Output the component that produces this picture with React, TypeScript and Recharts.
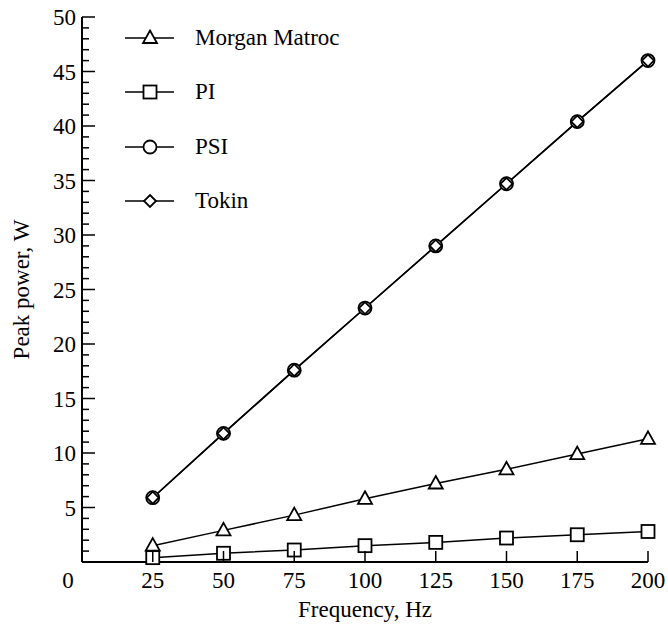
import { LineChart, Line, XAxis, YAxis, Legend } from "recharts";

const frequencies = [25, 50, 75, 100, 125, 150, 175, 200];
const morganMatroc = [1.5, 2.9, 4.3, 5.8, 7.2, 8.5, 9.9, 11.3];
const pi = [0.4, 0.8, 1.1, 1.5, 1.8, 2.2, 2.5, 2.8];
const psi = [5.9, 11.8, 17.6, 23.3, 29.0, 34.7, 40.4, 46.0];
const tokin = [5.9, 11.8, 17.6, 23.3, 29.0, 34.7, 40.4, 46.0];

const xTicks = [0, 25, 50, 75, 100, 125, 150, 175, 200];
const yTicks = Array.from({ length: 51 }, (_, i) => i);

const SERIES = [
  { key: "morgan", name: "Morgan Matroc", shape: "triangle" },
  { key: "pi", name: "PI", shape: "square" },
  { key: "psi", name: "PSI", shape: "circle" },
  { key: "tokin", name: "Tokin", shape: "diamond" },
];

const data = frequencies.map((f, i) => ({
  freq: f,
  morgan: morganMatroc[i],
  pi: pi[i],
  psi: psi[i],
  tokin: tokin[i],
}));

const FONT = '"Liberation Serif", "Times New Roman", serif';
const FONT_SIZE = 23;

function Marker({ shape, cx, cy }: { shape: string; cx: number; cy: number }) {
  const common = { fill: "#fff", stroke: "#000", strokeWidth: 1.8 };
  if (shape === "triangle")
    return <polygon points={`${cx},${cy - 7.5} ${cx + 7},${cy + 5} ${cx - 7},${cy + 5}`} {...common} />;
  if (shape === "square") return <rect x={cx - 6.5} y={cy - 6.5} width={13} height={13} {...common} />;
  if (shape === "circle") return <circle cx={cx} cy={cy} r={6.5} {...common} />;
  return <polygon points={`${cx},${cy - 6} ${cx + 6},${cy} ${cx},${cy + 6} ${cx - 6},${cy}`} {...common} />;
}

function XTick(props: any) {
  const { x, y, payload } = props;
  const v = payload.value;
  const axisY = y - 10;
  return (
    <g>
      {v > 0 && <line x1={x} x2={x} y1={axisY} y2={axisY - 11} stroke="#000" strokeWidth={1.5} />}
      <text x={v === 0 ? x - 14 : x} y={y} dy="0.71em" textAnchor="middle" fontFamily={FONT} fontSize={FONT_SIZE} fill="#000">
        {v}
      </text>
    </g>
  );
}

function YTick(props: any) {
  const { x, y, payload } = props;
  const v = payload.value;
  const axisX = x + 6;
  const major = v % 5 === 0;
  if (v === 0) return <g />;
  return (
    <g>
      <line x1={axisX} x2={axisX + (major ? 13 : 7)} y1={y} y2={y} stroke="#000" strokeWidth={1.5} />
      {major && (
        <text x={x} y={y} dy="0.35em" textAnchor="end" fontFamily={FONT} fontSize={FONT_SIZE} fill="#000">
          {v}
        </text>
      )}
    </g>
  );
}

function LegendBox() {
  return (
    <div style={{ fontFamily: FONT, fontSize: FONT_SIZE, color: "#000" }}>
      {SERIES.map((s) => (
        <div key={s.key} style={{ height: 54.3, display: "flex", alignItems: "center" }}>
          <svg width={50} height={20} style={{ display: "block" }}>
            <line x1={0} x2={49} y1={10} y2={10} stroke="#000" strokeWidth={1.5} />
            <Marker shape={s.shape} cx={25} cy={10} />
          </svg>
          <span style={{ marginLeft: 20 }}>{s.name}</span>
        </div>
      ))}
    </div>
  );
}

export default function App() {
  return (
    <div style={{ width: 668, height: 630, background: "#fff" }}>
      <style>{`body{margin:0;background:#fff}`}</style>
      <LineChart width={668} height={630} data={data} margin={{ top: 17, right: 20, left: 32, bottom: 0 }}>
        <XAxis
          dataKey="freq"
          type="number"
          domain={[0, 200]}
          ticks={xTicks}
          interval={0}
          height={68}
          tickSize={0}
          tickMargin={10}
          tick={XTick}
          axisLine={{ stroke: "#000", strokeWidth: 2 }}
          label={{
            content: ({ viewBox }: any) => (
              <text
                x={viewBox.x + viewBox.width / 2}
                y={viewBox.y + 55}
                textAnchor="middle"
                fontFamily={FONT}
                fontSize={FONT_SIZE}
                fill="#000"
              >
                Frequency, Hz
              </text>
            ),
          }}
        />
        <YAxis
          type="number"
          domain={[0, 50]}
          ticks={yTicks}
          interval={0}
          width={50}
          tickSize={0}
          tickMargin={6}
          tick={YTick}
          axisLine={{ stroke: "#000", strokeWidth: 2 }}
          label={{
            content: ({ viewBox }: any) => {
              const cy = viewBox.y + viewBox.height / 2;
              return (
                <text
                  x={21}
                  y={cy}
                  textAnchor="middle"
                  transform={`rotate(-90, 21, ${cy})`}
                  dy="0.35em"
                  fontFamily={FONT}
                  fontSize={FONT_SIZE}
                  fill="#000"
                >
                  Peak power, W
                </text>
              );
            },
          }}
        />
        <Legend
          layout="horizontal"
          verticalAlign="middle"
          align="center"
          content={() => <LegendBox />}
          wrapperStyle={{ left: 125, top: 11, width: 280, height: 220 }}
        />
        {SERIES.map((s) => (
          <Line
            key={s.key}
            dataKey={s.key}
            name={s.name}
            type="linear"
            stroke="#000"
            strokeWidth={1.5}
            isAnimationActive={false}
            activeDot={false}
            dot={(p: any) => <Marker key={`${s.key}-${p.index}`} shape={s.shape} cx={p.cx} cy={p.cy} />}
          />
        ))}
      </LineChart>
    </div>
  );
}
